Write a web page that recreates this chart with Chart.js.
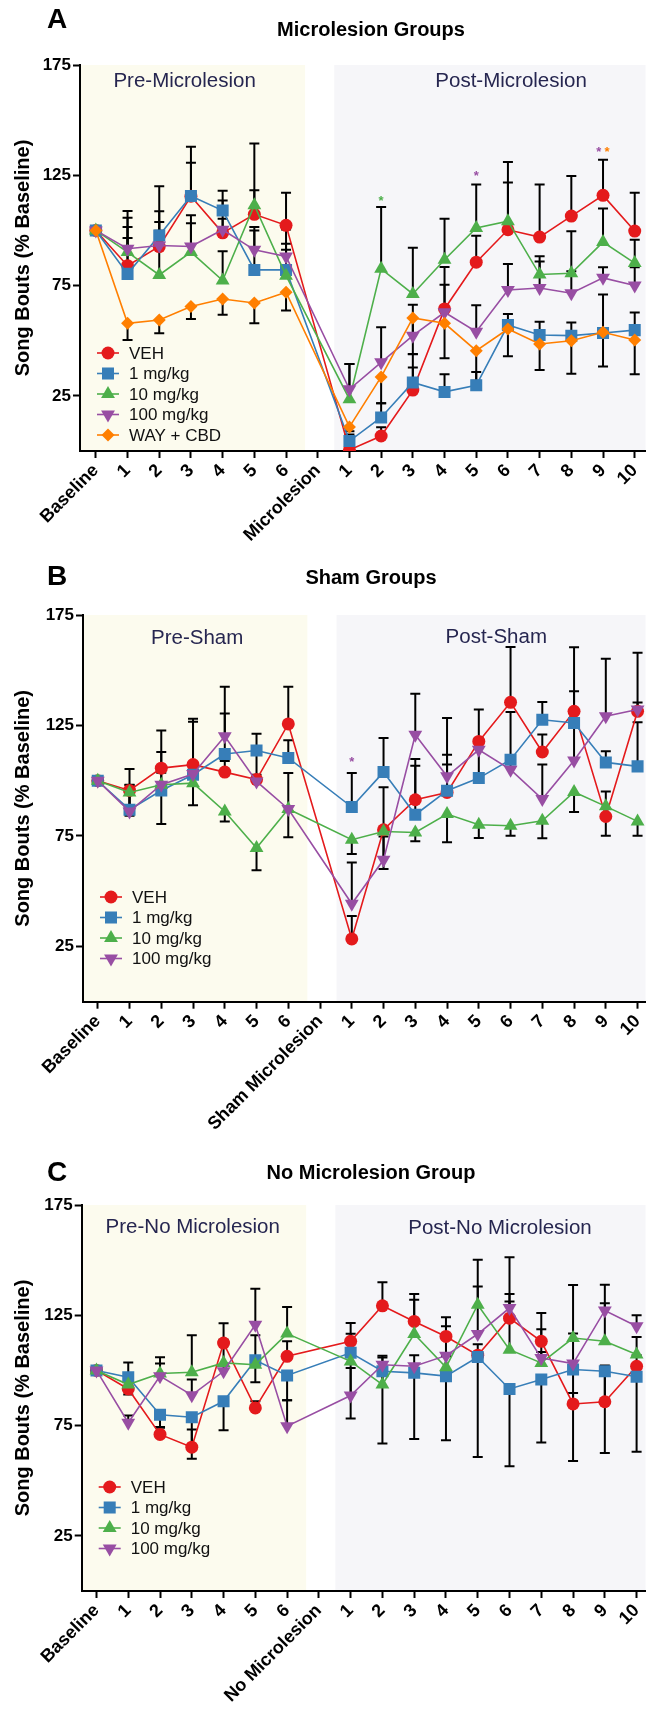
<!DOCTYPE html>
<html lang="en">
<head>
  <meta charset="UTF-8">
  <title>Song Bouts (% Baseline)</title>
  <script src="https://cdn.jsdelivr.net/npm/chart.js"></script>
  <style>
    body { margin: 0; background: #fff; }
    canvas { position: absolute; left: 0; }
  </style>
</head>
<body>
  <canvas id="chartA" width="654" height="560" style="top:0px;width:654px;height:560px"></canvas>
  <canvas id="chartB" width="654" height="620" style="top:540px;width:654px;height:620px"></canvas>
  <canvas id="chartC" width="654" height="587" style="top:1130px;width:654px;height:587px"></canvas>

  <script>
    // Series / axes
    const seriesNames = ['VEH', '1 mg/kg', '10 mg/kg', '100 mg/kg', 'WAY + CBD'];
    const seriesColors = ['#E41A1C', '#377EB8', '#4DAF4A', '#984EA3', '#FF7F00'];
    const yTicks = [25, 75, 125, 175];

    const catsA = ['Baseline', '1', '2', '3', '4', '5', '6', 'Microlesion', '1', '2', '3', '4', '5', '6', '7', '8', '9', '10'];
    const catsB = ['Baseline', '1', '2', '3', '4', '5', '6', 'Sham Microlesion', '1', '2', '3', '4', '5', '6', '7', '8', '9', '10'];
    const catsC = ['Baseline', '1', '2', '3', '4', '5', '6', 'No Microlesion', '1', '2', '3', '4', '5', '6', '7', '8', '9', '10'];

    // A - Microlesion groups
    const vehA   = [100, 84, 92.7, 115.5, 98.9, 107.3, 102.3, null, 0.5, 6.8, 27.6, 64.4, 85.6, 100.3, 97, 106.5, 115.9, 99.7];
    const mg1A   = [100, 80.3, 97.7, 115.6, 109, 82.1, 82.1, null, 4.5, 15.2, 31.1, 26.8, 29.8, 57.1, 52.6, 52.3, 53.5, 54.8];
    const mg10A  = [100, 90.2, 79.8, 90.2, 77.3, 111.4, 79.5, null, 23.5, 82.6, 71.2, 86.7, 101.1, 104.2, 80, 80.6, 94.7, 85.2];
    const mg100A = [100, 91.7, 93.2, 92.7, 100.3, 91.2, 88.2, null, 28, 40.2, 52.3, 62.9, 54.1, 73, 73.9, 71.5, 78.5, 75];
    const wayA   = [100, 57.9, 59.4, 65.5, 68.9, 67.1, 72, null, 10.9, 33.6, 60.3, 57.9, 45.5, 55.3, 48.5, 50, 53.8, 50.3];
    const vehErrA   = [0, 12.6, 16, 15.2, 14.7, 10.9, 14.8, null, 3.8, 4, 16.4, 11, 12, 21.4, 23.8, 18.2, 16.2, 17.4];
    const mg1ErrA   = [0, 21.2, 22.3, 22.3, 9, 19.4, 18.3, null, 3, 6.4, 6.8, 8, 6, 5, 6, 6, 17.4, 8];
    const mg10ErrA  = [0, 15.5, 20, 16.7, 13.3, 28, 11.7, null, 15.9, 28, 20.9, 18.6, 19.7, 26.8, 8.3, 19, 15.2, 10.6];
    const mg100ErrA = [0, 17.1, 10.6, 10.6, 5, 8.8, 5.8, null, 11.4, 15.9, 14, 20.5, 12, 11.8, 12, 10, 4.8, 8.3];
    const wayErrA   = [0, 7.6, 6, 5.6, 7.1, 9.2, 8.3, null, 2, 12, 16.4, 15.8, 13.6, 12.4, 11.8, 15, 15.5, 15.5];

    // B - Sham groups
    const vehB   = [100, 95.6, 105.7, 107.3, 103.9, 100.5, 125.7, null, 28.4, 77.8, 91.4, 94.7, 117.8, 135.5, 113, 131.4, 83.8, 131.4];
    const mg1B   = [100, 86.9, 95.6, 102.7, 112.1, 113.7, 110.3, null, 88.1, 103.9, 84.6, 95.5, 101.2, 109.5, 127.6, 126.1, 108.3, 106.5];
    const mg10B  = [100, 94.7, 98.2, 98.9, 86.1, 69.5, 87.2, null, 73.3, 77, 76.6, 84.9, 80.1, 79.6, 81.9, 94.9, 88.4, 81.6];
    const mg100B = [100, 86.1, 98.2, 103, 120.1, 99.7, 87.2, null, 44.3, 64.2, 120.8, 102, 114, 105, 91.7, 109.2, 129.2, 132.2];
    const vehErrB   = [0, 9.7, 17, 20.8, 5, 13.9, 16.8, null, 10.4, 19.3, 18.4, 17, 14.4, 25, 7.9, 29, 11.3, 4];
    const mg1ErrB   = [0, 11.3, 8, 24, 18.3, 7.6, 8, null, 15.4, 15.4, 22.2, 11.8, 17.8, 21.6, 8, 14.4, 5, 20];
    const mg10ErrB  = [0, 10.6, 17.8, 10, 4.5, 10, 12.8, null, 6.5, 17, 4, 12.7, 6, 4.5, 7.9, 9, 13.3, 6.5];
    const mg100ErrB = [0, 12, 14.8, 4, 22.4, 3, 16.3, null, 18.7, 10.6, 18.6, 26.4, 5, 5, 15.6, 14.7, 26, 25.7];

    // C - No microlesion group
    const vehC   = [100, 91.6, 71, 65.2, 112.4, 83, 106.4, null, 113.2, 129.3, 122.2, 115.4, 106.9, 123.7, 113.2, 84.8, 85.8, 101.9];
    const mg1C   = [100, 96.9, 79.9, 78.8, 86, 104.6, 97.7, null, 108, 99.6, 98.9, 97.4, 106.1, 91.6, 95.9, 100.4, 99.6, 97.1];
    const mg10C  = [100, 93.6, 98.6, 99.2, 103.4, 102.6, 116.7, null, 104.1, 93.6, 116.5, 101.4, 129.8, 109.4, 103.4, 114.7, 113.2, 107.2];
    const mg100C = [100, 76.3, 97.4, 88.8, 99.6, 120.7, 74.7, null, 88.6, 102.6, 101.9, 106.7, 116.5, 128.3, 105.6, 103.1, 127.2, 120];
    const vehErrC   = [0, 12, 3, 8, 9, 3, 6.8, null, 8.3, 10.7, 12.4, 8.7, 5, 10.9, 12.8, 5, 16.4, 5];
    const mg1ErrC   = [0, 7.8, 5.6, 18.8, 13.1, 10, 11.2, null, 29.8, 32.7, 30, 29, 45.4, 35, 28.6, 41.5, 37, 34];
    const mg10ErrC  = [0, 3, 7.4, 16.7, 10.5, 13.3, 12, null, 12.5, 13, 15.5, 5, 20.4, 21.9, 5, 24, 17.3, 8];
    const mg100ErrC = [0, 3.3, 5.7, 7.1, 3, 16.3, 11.8, null, 12.5, 3.3, 5, 13.3, 21.6, 23, 13.1, 13.6, 11.6, 5];

    // significance stars: [x position (category index), y value, series index]
    const starsA = [[9, 113, 2], [12, 124.5, 3], [15.87, 135.5, 3], [16.13, 135.5, 4]];
    const starsB = [[8, 108.5, 3]];

    const markers = [
      { style: 'circle', r: 6.5, rot: 0 },
      { style: 'rect', r: 8.5, rot: 0 },
      { style: 'triangle', r: 8, rot: 0 },
      { style: 'triangle', r: 8, rot: 180 },
      { style: 'rectRot', r: 6.5, rot: 0 }
    ];
    const FONT = "'Liberation Sans', Arial, sans-serif";

    function makeDatasets(vals, errs, dirs) {
      return vals.map((arr, k) => ({
        label: seriesNames[k],
        data: arr.map((v, i) => ({ x: i, y: v })),
        err: errs[k],
        errDir: dirs[k],
        borderColor: seriesColors[k],
        backgroundColor: seriesColors[k],
        pointBackgroundColor: seriesColors[k],
        pointBorderColor: seriesColors[k],
        pointBorderWidth: 0,
        pointStyle: markers[k].style,
        pointRadius: markers[k].r,
        pointRotation: markers[k].rot,
        borderWidth: 1.6,
        spanGaps: true,
        tension: 0,
        order: vals.length - k
      }));
    }

    // error bars, drawn under the markers
    const errorBars = {
      id: 'errorBars',
      beforeDatasetsDraw(chart) {
        const ctx = chart.ctx, ys = chart.scales.y;
        ctx.save();
        ctx.strokeStyle = '#000';
        ctx.lineWidth = 2;
        chart.data.datasets.forEach((ds, k) => {
          const meta = chart.getDatasetMeta(k);
          ds.err.forEach((e, i) => {
            const v = ds.data[i].y;
            if (v === null || !e) return;
            const p = meta.data[i];
            const y0 = ys.getPixelForValue(v);
            const y1 = ys.getPixelForValue(v + ds.errDir * e);
            ctx.beginPath();
            ctx.moveTo(p.x, y0);
            ctx.lineTo(p.x, y1);
            ctx.moveTo(p.x - 5, y1);
            ctx.lineTo(p.x + 5, y1);
            ctx.stroke();
          });
        });
        ctx.restore();
      }
    };

    function makeDecor(cfg) {
      return {
        id: 'decor',
        beforeDraw(chart) {
          const { ctx, chartArea: a, scales: { x } } = chart;
          ctx.save();
          ctx.fillStyle = '#FCFBEE';
          ctx.fillRect(a.left, a.top, x.getPixelForValue(6.6) - a.left, a.bottom - a.top);
          const px = x.getPixelForValue(7.52);
          ctx.fillStyle = '#F6F6F9';
          ctx.fillRect(px, a.top, a.right - px, a.bottom - a.top);
          ctx.restore();
        },
        afterDraw(chart) {
          const { ctx, chartArea: a, scales: { x, y } } = chart;
          ctx.save();
          // panel letter + title
          ctx.fillStyle = '#000';
          ctx.textBaseline = 'middle';
          ctx.textAlign = 'left';
          ctx.font = 'bold 28px ' + FONT;
          ctx.fillText(cfg.letter, 47, cfg.letterY);
          ctx.textAlign = 'center';
          ctx.font = 'bold 20px ' + FONT;
          ctx.fillText(cfg.title, 371, cfg.titleY);
          // period labels
          ctx.font = '20.5px ' + FONT;
          ctx.fillStyle = '#262650';
          cfg.regions.forEach(r => ctx.fillText(r[0], x.getPixelForValue(r[1]), y.getPixelForValue(r[2])));
          // stars
          ctx.font = 'bold 13px ' + FONT;
          (cfg.stars || []).forEach(s => {
            ctx.fillStyle = seriesColors[s[2]];
            ctx.fillText('*', x.getPixelForValue(s[0]), y.getPixelForValue(s[1]));
          });
          // legend in plot area
          ctx.textAlign = 'left';
          ctx.font = '17px ' + FONT;
          chart.data.datasets.forEach((ds, k) => {
            const ly = a.top + cfg.legendTop + k * 20.5;
            const lx = a.left + 17;
            ctx.strokeStyle = ds.borderColor;
            ctx.lineWidth = 1.6;
            ctx.beginPath();
            ctx.moveTo(lx, ly);
            ctx.lineTo(lx + 22, ly);
            ctx.stroke();
            ctx.fillStyle = ds.borderColor;
            Chart.helpers.drawPoint(ctx, { pointStyle: ds.pointStyle, rotation: ds.pointRotation, radius: ds.pointRadius, borderWidth: 0 }, lx + 11, ly);
            ctx.fillStyle = '#111';
            ctx.fillText(ds.label, lx + 32, ly + 1);
          });
          ctx.restore();
        }
      };
    }

    function makePanel(id, cfg) {
      const cats = cfg.cats;
      new Chart(document.getElementById(id), {
        type: 'line',
        data: { datasets: makeDatasets(cfg.vals, cfg.errs, cfg.dirs) },
        plugins: [makeDecor(cfg), errorBars],
        options: {
          responsive: false,
          animation: false,
          events: [],
          layout: { padding: { top: cfg.top, left: 0, right: 0, bottom: 0 } },
          plugins: { legend: { display: false }, tooltip: { enabled: false }, title: { display: false } },
          scales: {
            x: {
              type: 'linear',
              min: cfg.xMin,
              max: cfg.xMax,
              afterBuildTicks: s => { s.ticks = cats.map((c, i) => ({ value: i })); },
              afterFit: s => { s.height = cfg.xH; s.paddingLeft = 0; s.paddingRight = 0; },
              ticks: {
                autoSkip: false, minRotation: 45, maxRotation: 45, padding: 2,
                color: '#000', font: { family: FONT, size: 18, weight: 'bold' },
                callback: v => cats[v]
              },
              grid: { drawOnChartArea: false, tickLength: 7, tickWidth: 2, tickColor: '#000' },
              border: { color: '#000', width: 2 }
            },
            y: {
              min: 0,
              max: 175,
              afterBuildTicks: s => { s.ticks = yTicks.map(v => ({ value: v })); },
              afterFit: s => { s.width = cfg.yW; },
              ticks: { padding: 2, color: '#000', font: { family: FONT, size: 17, weight: 'bold' } },
              grid: { drawOnChartArea: false, tickLength: 7, tickWidth: 2, tickColor: '#000' },
              border: { color: '#000', width: 2 },
              title: {
                display: true, text: 'Song Bouts (% Baseline)', color: '#000',
                font: { family: FONT, size: 20, weight: 'bold' }, padding: { top: 11, bottom: 0 }
              }
            }
          }
        }
      });
    }

    makePanel('chartA', {
      cats: catsA, letter: 'A', letterY: 20, title: 'Microlesion Groups', titleY: 30,
      vals: [vehA, mg1A, mg10A, mg100A, wayA],
      errs: [vehErrA, mg1ErrA, mg10ErrA, mg100ErrA, wayErrA],
      dirs: [1, 1, 1, 1, -1],
      regions: [['Pre-Microlesion', 2.8, 167.5], ['Post-Microlesion', 13.1, 167.5]],
      stars: starsA, legendTop: 288,
      top: 65, xH: 109, yW: 80, xMin: -0.5, xMax: 17.34
    });

    makePanel('chartB', {
      cats: catsB, letter: 'B', letterY: 37, title: 'Sham Groups', titleY: 38,
      vals: [vehB, mg1B, mg10B, mg100B],
      errs: [vehErrB, mg1ErrB, mg10ErrB, mg100ErrB],
      dirs: [1, 1, -1, 1],
      regions: [['Pre-Sham', 3.13, 164.3], ['Post-Sham', 12.55, 165]],
      stars: starsB, legendTop: 282,
      top: 75, xH: 158.3, yW: 83, xMin: -0.465, xMax: 17.25
    });

    makePanel('chartC', {
      cats: catsC, letter: 'C', letterY: 43, title: 'No Microlesion Group', titleY: 43,
      vals: [vehC, mg1C, mg10C, mg100C],
      errs: [vehErrC, mg1ErrC, mg10ErrC, mg100ErrC],
      dirs: [1, -1, 1, 1],
      regions: [['Pre-No Microlesion', 3.03, 165], ['Post-No Microlesion', 12.7, 164.5]],
      stars: [], legendTop: 282,
      top: 75, xH: 126, yW: 81.7, xMin: -0.465, xMax: 17.28
    });
  </script>
</body>
</html>
